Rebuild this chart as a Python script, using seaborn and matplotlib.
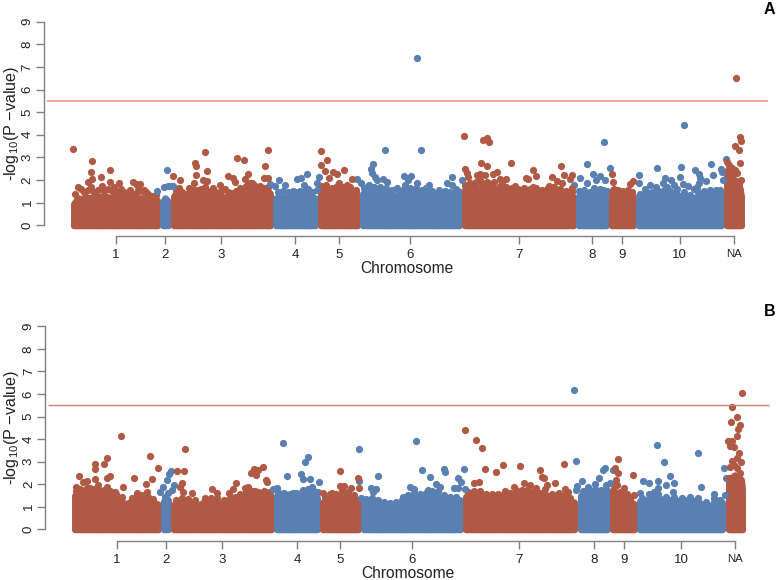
import matplotlib
matplotlib.use("Agg")
import matplotlib.pyplot as plt
import seaborn as sns

# ==========================================
# Data
# x is the genome position on a 0-777 scale, y is -log10(P)
# ==========================================

chrom_labels = ["1", "2", "3", "4", "5", "6", "7", "8", "9", "10", "NA"]
y_ticks = [0, 1, 2, 3, 4, 5, 6, 7, 8, 9]
threshold = 5.5

top_ticks = [115.7, 165.3, 221.3, 295.3, 339, 410.3, 518.7, 592.3, 622.3, 679.7, 734]
bot_ticks = [116.7, 166.3, 222.3, 297, 340.3, 412.3, 519.3, 593.7, 623.7, 681.3, 735.3]

# top panel, upper edge of the dense band per chromosome
top_c1_x = [74, 78, 82, 86, 90, 95, 100, 105, 110, 115, 120, 125, 130, 135, 140, 145, 150, 155, 157]
top_c1_y = [0.95, 1.2, 1.15, 1.25, 1.2, 1.3, 1.25, 1.3, 1.2, 1.25, 1.3, 1.2, 1.1, 1.15, 1.2, 1.2, 1.15, 1.2, 1.1]
top_c2_x = [163, 165, 168]
top_c2_y = [1.0, 1.2, 1.05]
top_c3_x = [174, 178, 184, 190, 196, 202, 208, 214, 220, 226, 232, 238, 244, 250, 256, 262, 268, 270]
top_c3_y = [1.3, 1.3, 1.2, 1.25, 1.35, 1.4, 1.4, 1.25, 1.3, 1.2, 1.3, 1.4, 1.5, 1.6, 1.55, 1.45, 1.5, 1.4]
top_c4_x = [276, 280, 286, 292, 298, 304, 310, 315]
top_c4_y = [1.2, 1.25, 1.2, 1.2, 1.3, 1.35, 1.25, 1.2]
top_c5_x = [321, 325, 331, 337, 343, 349, 355, 357]
top_c5_y = [1.5, 1.55, 1.45, 1.6, 1.55, 1.5, 1.45, 1.2]
top_c6_x = [363, 367, 373, 379, 385, 391, 397, 403, 409, 415, 421, 427, 433, 439, 445, 451, 457, 459]
top_c6_y = [1.4, 1.55, 1.5, 1.5, 1.45, 1.35, 1.3, 1.4, 1.45, 1.45, 1.35, 1.45, 1.3, 1.2, 1.2, 1.25, 1.4, 1.5]
top_c7_x = [465, 470, 477, 484, 491, 498, 505, 512, 519, 525, 532, 539, 546, 553, 560, 567, 573]
top_c7_y = [1.6, 1.6, 1.65, 1.6, 1.65, 1.6, 1.55, 1.5, 1.4, 1.45, 1.45, 1.4, 1.45, 1.5, 1.4, 1.3, 1.25]
top_c8_x = [579, 583, 589, 595, 601, 606]
top_c8_y = [1.3, 1.35, 1.3, 1.4, 1.4, 1.35]
top_c9_x = [612, 616, 621, 626, 631, 633]
top_c9_y = [1.4, 1.4, 1.35, 1.3, 1.2, 1.3]
top_c10_x = [639, 645, 653, 661, 669, 677, 685, 693, 701, 709, 717, 721]
top_c10_y = [1.25, 1.3, 1.3, 1.35, 1.35, 1.3, 1.3, 1.2, 1.3, 1.4, 1.4, 1.4]
top_na_x = [727, 728, 731, 734, 737, 739, 741]
top_na_y = [2.3, 2.3, 2.15, 2.0, 1.95, 1.75, 1.3]

# top panel, lumps sitting on the band
top_lump_red_x = [75, 84, 88, 94, 98, 104, 108, 112, 117, 124, 128, 133, 138, 142, 148, 152, 156,
                  176, 182, 187, 192, 198, 201, 210, 216, 222, 228, 236, 240, 246, 250, 254, 260, 264, 268,
                  321, 326, 332, 337, 343, 350, 356,
                  465, 470, 476, 482, 488, 494, 500, 506, 512, 518, 524, 530, 536, 542, 548, 554, 560, 566, 572,
                  613, 618, 623, 628]
top_lump_red_y = [1.4, 1.45, 1.55, 1.45, 1.55, 1.5, 1.6, 1.5, 1.45, 1.45, 1.4, 1.4, 1.55, 1.5, 1.4, 1.3, 1.35,
                  1.5, 1.45, 1.4, 1.45, 1.55, 1.6, 1.5, 1.45, 1.55, 1.45, 1.5, 1.65, 1.75, 1.85, 1.8, 1.75, 1.65, 1.7,
                  1.75, 1.8, 1.65, 1.75, 1.7, 1.7, 1.45,
                  1.8, 1.85, 1.9, 1.85, 1.85, 1.9, 1.75, 1.7, 1.65, 1.6, 1.65, 1.6, 1.65, 1.55, 1.65, 1.7, 1.6, 1.5, 1.45,
                  1.55, 1.55, 1.5, 1.45]
top_lump_blue_x = [278, 283, 290, 296, 300, 306, 312,
                   364, 368, 374, 380, 386, 392, 399, 404, 410, 416, 422, 426, 432, 438, 444, 450, 456,
                   579, 584, 590, 597, 603, 607,
                   640, 646, 652, 658, 664, 670, 676, 684, 690, 698, 704, 710, 716, 720]
top_lump_blue_y = [1.45, 1.5, 1.4, 1.45, 1.5, 1.55, 1.45,
                   1.65, 1.75, 1.7, 1.7, 1.65, 1.55, 1.5, 1.6, 1.65, 1.65, 1.55, 1.65, 1.5, 1.4, 1.35, 1.45, 1.6,
                   1.5, 1.55, 1.45, 1.55, 1.55, 1.5,
                   1.4, 1.45, 1.45, 1.5, 1.55, 1.5, 1.45, 1.45, 1.35, 1.45, 1.5, 1.55, 1.55, 1.55]

# top panel, single points above the band
top_red_x = [73.3, 92.3, 91, 110, 101.3, 92.3, 87.7, 110, 118.7, 78.3, 81, 90.7, 102, 114, 121.3, 133.3, 136, 140,
             130, 144, 146, 136, 173.3, 179.7, 178.7, 195.3, 195.7, 195.7, 205, 206.7, 203.3, 207.3, 194.3, 189.3,
             194, 205, 212.7, 220, 225, 228, 233.3, 237.3, 244, 248, 245, 235, 252.3, 230.7, 256.7,
             267.7, 265, 264, 268,
             321, 327, 321, 324.7, 332.7, 337.3, 344.3, 329.3, 339.3, 352.3, 347.3, 355.7,
             464, 482.7, 486.7, 489.3, 480.7, 486.7, 511.3, 465, 467.3, 468.3, 476.7, 480, 485, 492.7, 497.3, 480,
             486.7, 500, 506, 501.7, 515, 475,
             532.7, 526.3, 528, 536, 533, 552, 561, 563.7, 557, 562, 572.3, 570.3, 571.7, 548.7, 561.3, 553,
             612.3, 612.7, 614.3, 633, 630.3, 627.7, 632,
             735.7, 740.3, 741, 735, 738.7, 739.7, 727, 729.3, 732, 735.3, 737, 741, 738.7, 739.7, 727.7, 732, 733.7]
top_red_y = [3.39, 2.86, 2.36, 2.44, 2.14, 2.03, 1.93, 1.93, 1.86, 1.71, 1.62, 1.71, 1.74, 1.68, 1.62, 1.91, 1.83, 1.83,
             1.56, 1.56, 1.47, 1.34, 2.19, 2.0, 1.63, 2.77, 2.64, 2.22, 3.25, 2.4, 2.0, 1.96, 1.87, 1.63,
             1.56, 1.71, 1.66, 1.77, 1.6, 2.16, 2.08, 2.96, 2.87, 2.27, 2.03, 1.9, 1.89, 1.41, 1.71,
             3.34, 2.61, 2.08, 2.08,
             3.28, 2.87, 2.68, 2.39, 2.34, 2.28, 2.46, 2.11, 1.89, 2.03, 1.78, 1.56,
             3.95, 3.77, 3.86, 3.67, 2.77, 2.62, 2.74, 2.49, 2.3, 2.12, 2.22, 2.27, 2.22, 2.27, 2.37, 2.0,
             1.93, 2.05, 2.05, 1.93, 1.74, 1.89,
             2.46, 2.08, 2.03, 2.18, 1.71, 2.14, 2.61, 2.24, 1.96, 1.89, 2.24, 2.05, 1.66, 1.74, 1.49, 1.68,
             2.28, 1.91, 1.62, 1.96, 1.83, 1.56, 1.49,
             6.52, 3.9, 3.71, 3.52, 3.31, 2.75, 2.81, 2.67, 2.55, 2.44, 2.33, 1.99, 1.86, 1.56, 2.44, 2.22, 1.93]
top_blue_x = [157, 164, 167, 171, 168, 173,
              270, 275, 279.3, 285, 287.7, 293.3, 296.7, 301, 306.7, 304, 308.3, 317.3, 319.3, 316.7,
              357.3, 361, 385, 372.7, 371, 372, 375, 377.3, 383.3, 386.7, 369.3, 397.3, 404.3, 411, 405.3, 408.3,
              416.7, 416.7, 421.3, 428.7, 438.7, 445.3, 446.7, 452.3, 451.7, 461.7, 441.7,
              574.3, 579.7, 587, 593, 587, 596, 600.3, 603.7, 605.3, 610, 593.7, 600.3,
              639.3, 638.7, 644.7, 650.3, 657, 656.3, 648.7, 664.7, 662.7, 671, 667, 673.7, 677, 680.7, 680.3, 683.7,
              682.7, 687.7, 695, 699, 699.7, 698.7, 697, 693.7, 711, 713, 706.3, 721.3, 722, 722.7, 726]
top_blue_y = [1.5, 1.7, 2.44, 1.75, 1.75, 1.73,
              1.81, 1.74, 1.99, 1.78, 1.49, 1.53, 2.05, 2.11, 2.25, 1.78, 1.59, 1.86, 2.15, 1.56,
              2.05, 1.89, 3.34, 2.7, 2.47, 2.3, 2.15, 2.0, 2.05, 1.93, 1.78, 1.63, 2.18, 2.18, 1.78, 2.0,
              1.86, 7.39, 3.33, 1.78, 1.56, 1.53, 1.89, 2.15, 1.78, 1.99, 1.27,
              1.78, 2.09, 2.7, 2.28, 1.89, 2.02, 2.19, 3.7, 2.0, 2.55, 1.63, 1.6,
              2.24, 1.86, 1.59, 1.78, 2.52, 1.71, 1.44, 2.09, 1.86, 2.02, 1.71, 1.78, 1.59, 2.58, 2.15, 4.42,
              1.81, 1.74, 2.44, 2.25, 2.08, 1.89, 1.71, 1.59, 2.7, 2.24, 1.96, 2.49, 2.37, 2.0, 2.92]

# bottom panel, upper edge of the dense band per chromosome
bot_c1_x = [75, 80, 85, 90, 95, 100, 105, 110, 115, 120, 125, 130, 135, 140, 145, 150, 155, 158]
bot_c1_y = [1.5, 1.6, 1.55, 1.65, 1.6, 1.55, 1.55, 1.5, 1.4, 1.3, 1.1, 1.2, 1.35, 1.3, 1.3, 1.2, 1.15, 1.1]
bot_c2_x = [164, 166, 168]
bot_c2_y = [1.25, 1.35, 1.3]
bot_c3_x = [174, 180, 186, 192, 198, 204, 210, 216, 222, 228, 234, 240, 246, 252, 258, 264, 271]
bot_c3_y = [1.1, 1.2, 1.2, 1.15, 1.05, 1.2, 1.25, 1.2, 1.1, 1.2, 1.25, 1.4, 1.45, 1.5, 1.5, 1.5, 1.45]
bot_c4_x = [277, 283, 289, 295, 301, 307, 313, 317]
bot_c4_y = [1.5, 1.45, 1.4, 1.45, 1.5, 1.6, 1.55, 1.4]
bot_c5_x = [323, 329, 335, 341, 347, 353, 358]
bot_c5_y = [1.2, 1.35, 1.4, 1.5, 1.45, 1.35, 1.3]
bot_c6_x = [364, 370, 376, 382, 388, 394, 400, 406, 412, 418, 424, 430, 436, 442, 448, 454, 460]
bot_c6_y = [1.2, 1.25, 1.15, 1.05, 1.0, 1.05, 1.1, 1.3, 1.45, 1.4, 1.4, 1.5, 1.5, 1.35, 1.15, 1.3, 1.3]
bot_c7_x = [466, 472, 478, 484, 490, 496, 502, 508, 514, 520, 526, 532, 538, 544, 550, 556, 562, 568, 574]
bot_c7_y = [1.45, 1.5, 1.5, 1.4, 1.4, 1.35, 1.4, 1.45, 1.55, 1.55, 1.6, 1.5, 1.45, 1.3, 1.35, 1.4, 1.35, 1.2, 1.2]
bot_c8_x = [581, 587, 593, 599, 605, 607]
bot_c8_y = [1.5, 1.55, 1.6, 1.55, 1.6, 1.7]
bot_c9_x = [613, 618, 623, 628, 633, 634]
bot_c9_y = [1.75, 1.5, 1.3, 1.25, 1.15, 1.1]
bot_c10_x = [640, 648, 656, 664, 672, 680, 688, 696, 704, 712, 720, 722]
bot_c10_y = [1.25, 1.3, 1.4, 1.3, 1.3, 1.25, 1.3, 1.25, 1.05, 1.05, 1.15, 1.2]
bot_na_x = [729, 732, 735, 738, 741, 742]
bot_na_y = [2.2, 2.3, 2.4, 2.3, 2.2, 1.8]

# bottom panel, lumps sitting on the band
bot_lump_red_x = [76, 80, 85, 90, 94, 99, 104, 110, 116, 122, 132, 137, 142, 148, 153,
                  176, 182, 188, 195, 205, 211, 217, 224, 230, 235, 240, 246, 252, 258, 264, 270,
                  325, 330, 336, 342, 348, 354,
                  468, 474, 480, 486, 492, 498, 504, 510, 516, 522, 528, 534, 540, 546, 552, 558, 564, 570,
                  614, 620, 625, 630]
bot_lump_red_y = [1.7, 1.8, 1.75, 1.85, 1.8, 1.75, 1.75, 1.7, 1.55, 1.45, 1.4, 1.5, 1.5, 1.45, 1.35,
                  1.3, 1.4, 1.35, 1.3, 1.4, 1.4, 1.4, 1.3, 1.4, 1.45, 1.55, 1.65, 1.7, 1.65, 1.7, 1.65,
                  1.4, 1.55, 1.55, 1.7, 1.65, 1.5,
                  1.65, 1.7, 1.7, 1.55, 1.55, 1.55, 1.55, 1.6, 1.75, 1.75, 1.8, 1.7, 1.6, 1.5, 1.55, 1.55, 1.5, 1.4,
                  1.95, 1.65, 1.5, 1.4]
bot_lump_blue_x = [278, 284, 290, 296, 302, 308, 314,
                   366, 372, 378, 384, 390, 396, 402, 408, 414, 420, 426, 432, 438, 444, 450, 456,
                   583, 589, 595, 601, 606,
                   642, 650, 658, 666, 674, 682, 690, 698, 706, 714, 720]
bot_lump_blue_y = [1.65, 1.6, 1.55, 1.6, 1.65, 1.8, 1.7,
                   1.35, 1.4, 1.3, 1.2, 1.15, 1.2, 1.3, 1.5, 1.6, 1.55, 1.6, 1.7, 1.7, 1.5, 1.3, 1.45,
                   1.7, 1.75, 1.8, 1.75, 1.8,
                   1.4, 1.45, 1.55, 1.45, 1.45, 1.4, 1.45, 1.4, 1.2, 1.2, 1.3]

# bottom panel, single points above the band
bot_red_x = [120.7, 106.7, 95, 95.3, 104, 78.7, 107.3, 110, 82.7, 87.3, 95, 76, 86.7, 98.3, 106.7, 134.3, 123.3, 146,
             152, 150, 158.3, 115, 136.7, 147.3, 76.7,
             176.7, 183.7, 185, 181.7, 180, 182.7, 191.7, 212, 216.7, 236, 233.3, 229.3, 245, 248.3, 255, 254.3,
             250.7, 256, 258.3, 262.7, 266, 266.7, 266,
             340, 358, 358.7, 351.3, 340, 344, 323.3, 331.7, 351.7,
             465.3, 476.3, 482.3, 484.7, 496.3, 502.7, 519.7, 474.3, 479, 505, 514,
             540.3, 542, 543.7, 563.7, 555, 524.3, 530.3, 536.3, 547, 565.3, 567.7, 545.3, 538.7, 558.7,
             618.3, 615.3, 617.7, 616.3, 617, 623.7, 633, 633.7, 627,
             742, 732.3, 737, 731, 739.7, 738, 737, 727.7, 732.3, 730.3, 734.3, 739, 737, 741.3, 732, 730.3,
             733.7, 737, 739.7, 729.3]
bot_red_y = [4.15, 3.16, 2.9, 2.67, 2.9, 2.38, 2.29, 2.36, 2.1, 2.13, 2.22, 1.86, 1.82, 1.97, 1.89, 2.29, 1.86, 2.01,
             2.23, 3.24, 2.73, 1.67, 1.6, 1.66, 1.6,
             2.6, 2.59, 3.58, 2.07, 1.89, 1.67, 1.6, 1.77, 1.6, 2.07, 1.79, 1.63, 1.82, 1.89, 1.71, 2.67,
             2.51, 2.39, 2.63, 2.75, 2.19, 2.11, 1.67,
             2.6, 2.26, 1.83, 1.82, 1.94, 1.94, 1.6, 1.6, 1.48,
             4.42, 3.95, 3.61, 2.69, 2.53, 2.84, 2.81, 2.04, 2.08, 1.7, 1.89,
             2.62, 2.33, 2.29, 2.91, 2.04, 2.07, 1.97, 1.82, 1.97, 1.77, 1.67, 1.79, 1.6, 1.6,
             3.12, 2.7, 2.48, 2.19, 1.97, 1.83, 2.39, 1.52, 1.57,
             6.03, 5.42, 4.99, 4.77, 4.64, 4.43, 4.14, 3.93, 3.92, 3.69, 3.64, 3.37, 3.18, 3.0, 3.03, 2.78,
             2.85, 2.7, 2.48, 2.29]
bot_blue_x = [171, 169.3, 167, 174, 163.3, 160, 171.7, 167.7, 165,
              283.3, 287.3, 300.7, 303.3, 308.3, 304.7, 310, 319.3, 276.7, 273.3, 311.7, 303.3, 293.3, 318.3,
              358.7, 358.7, 377.7, 370.7, 376, 372.7, 360.7, 416, 422.3, 430.3, 444.3, 444.7, 436, 410, 414, 428.3,
              440, 457.7, 460.7, 464.3, 454.3, 458.3, 465, 450, 403.3,
              574.3, 576.3, 577, 582, 576.3, 587.7, 595, 599, 602.7, 605, 606.3, 610.3, 613,
              639.7, 642.7, 649, 658, 657, 664.3, 666.3, 670, 673.7, 673.3, 657.7, 653.7, 648.7, 697.7, 701, 714,
              714.3, 724, 726, 725.3]
bot_blue_y = [2.59, 2.44, 2.19, 1.98, 1.89, 1.64, 1.74, 1.6, 1.45,
              3.81, 2.35, 2.44, 2.22, 3.22, 3.0, 2.25, 2.08, 1.85, 1.79, 1.89, 1.74, 1.6, 1.67,
              3.55, 2.14, 2.35, 1.85, 1.77, 1.67, 1.4, 3.93, 2.63, 2.33, 2.66, 2.54, 2.01, 1.86, 1.77, 1.74,
              1.89, 2.26, 2.08, 2.66, 1.83, 1.82, 1.77, 1.45, 1.42,
              6.18, 3.03, 1.92, 2.13, 1.74, 1.89, 2.01, 2.29, 2.63, 2.72, 1.97, 2.04, 2.62,
              1.6, 2.14, 2.07, 2.13, 3.74, 2.97, 1.97, 2.35, 2.07, 1.66, 1.82, 1.67, 1.57, 3.4, 1.88, 1.57,
              1.37, 2.73, 2.29, 1.52]

red = "#B05A45"
blue = "#5A7FB1"
axis_grey = "#808080"
dot_size = 27

# ==========================================
# Style
# ==========================================

sns.set_theme(style="white")
plt.rcParams["font.family"] = ["Liberation Sans", "DejaVu Sans"]
plt.rcParams["mathtext.default"] = "regular"
plt.rcParams["axes.unicode_minus"] = False

fig = plt.figure(figsize=(7.77, 5.8), dpi=100)


def px_axes(top_px, bottom_px):
    return fig.add_axes([0, 1 - bottom_px / 580, 1, (bottom_px - top_px) / 580])


def dots(ax, xs, ys, color):
    sns.scatterplot(x=xs, y=ys, color=color, s=dot_size, linewidth=0, ax=ax, clip_on=False)


def draw_band(ax, xs, ys, color):
    # band edge line is as wide as a marker so the block ends look like the dots
    ax.fill_between(xs, 0, ys, color=color, linewidth=5.0, joinstyle="round", clip_on=False)
    dots(ax, xs, [0] * len(xs), color)


def draw_panel(ax, bands, lumps, red_x, red_y, blue_x, blue_y, ticks, spine_x, xaxis_y, line_x, line_color, line_w,
               xlabel_x, xlabel_y):
    # blue lumps first, the red blocks overlap their edges like in the original
    dots(ax, lumps[2], lumps[3], blue)
    dots(ax, lumps[0], lumps[1], red)
    for (xs, ys), color in zip(bands, [red, blue, red, blue, red, blue, red, blue, red, blue, red]):
        draw_band(ax, xs, ys, color)

    dots(ax, blue_x, blue_y, blue)
    dots(ax, red_x, red_y, red)

    ax.hlines(threshold, line_x[0], line_x[1], color=line_color, linewidth=line_w)

    ax.set_xlim(0, 777)
    ax.set_ylim(0, 9)
    ax.patch.set_alpha(0)

    for side in ["top", "right"]:
        ax.spines[side].set_visible(False)
    ax.spines["left"].set_position(("data", spine_x))
    ax.spines["left"].set_bounds(0, 9)
    ax.spines["bottom"].set_position(("data", xaxis_y))
    ax.spines["bottom"].set_bounds(ticks[0], ticks[-1])
    for side in ["left", "bottom"]:
        ax.spines[side].set_color(axis_grey)
        ax.spines[side].set_linewidth(1.0)

    ax.set_yticks(y_ticks)
    ax.set_yticklabels([str(v) for v in y_ticks], rotation=90, va="center", fontsize=9.5, color="#222222")
    ax.set_xticks(ticks)
    ax.set_xticklabels(chrom_labels, fontsize=9.5, color="#222222")
    ax.get_xticklabels()[-1].set_fontsize(8.2)
    ax.tick_params(axis="both", length=5.8, width=1.0, color=axis_grey, bottom=True, left=True)
    ax.tick_params(axis="x", pad=3.5)
    ax.tick_params(axis="y", pad=1.5)

    ax.set_xlabel("Chromosome", fontsize=11.2, color="#222222", va="center")
    ax.xaxis.set_label_coords(xlabel_x / 777, xlabel_y)
    ax.set_ylabel("-log$_{10}$(P \u2212value)", fontsize=11.6, color="#222222", va="center")
    ax.yaxis.set_label_coords(11.5 / 777, 0.5)


# ==========================================
# Panels
# ==========================================

top_bands = [(top_c1_x, top_c1_y), (top_c2_x, top_c2_y), (top_c3_x, top_c3_y), (top_c4_x, top_c4_y),
             (top_c5_x, top_c5_y), (top_c6_x, top_c6_y), (top_c7_x, top_c7_y), (top_c8_x, top_c8_y),
             (top_c9_x, top_c9_y), (top_c10_x, top_c10_y), (top_na_x, top_na_y)]
bot_bands = [(bot_c1_x, bot_c1_y), (bot_c2_x, bot_c2_y), (bot_c3_x, bot_c3_y), (bot_c4_x, bot_c4_y),
             (bot_c5_x, bot_c5_y), (bot_c6_x, bot_c6_y), (bot_c7_x, bot_c7_y), (bot_c8_x, bot_c8_y),
             (bot_c9_x, bot_c9_y), (bot_c10_x, bot_c10_y), (bot_na_x, bot_na_y)]

ax_top = px_axes(21.7, 225.3)
draw_panel(ax_top, top_bands, (top_lump_red_x, top_lump_red_y, top_lump_blue_x, top_lump_blue_y),
           top_red_x, top_red_y, top_blue_x, top_blue_y, top_ticks,
           43.7, -0.486, (47, 767.7), "#E9A9A3", 1.5, 407, -0.213)

ax_bot = px_axes(326.3, 529.3)
draw_panel(ax_bot, bot_bands, (bot_lump_red_x, bot_lump_red_y, bot_lump_blue_x, bot_lump_blue_y),
           bot_red_x, bot_red_y, bot_blue_x, bot_blue_y, bot_ticks,
           45, -0.532, (48, 769.3), "#CC7F7B", 1.0, 408.3, -0.217)

fig.text(769 / 777, 1 - 9 / 580, "A", fontsize=11.5, fontweight="bold", color="black", ha="center", va="center")
fig.text(770 / 777, 1 - 312 / 580, "B", fontsize=11.5, fontweight="bold", color="black", ha="center", va="center")

fig.savefig("out.png", dpi=100)
